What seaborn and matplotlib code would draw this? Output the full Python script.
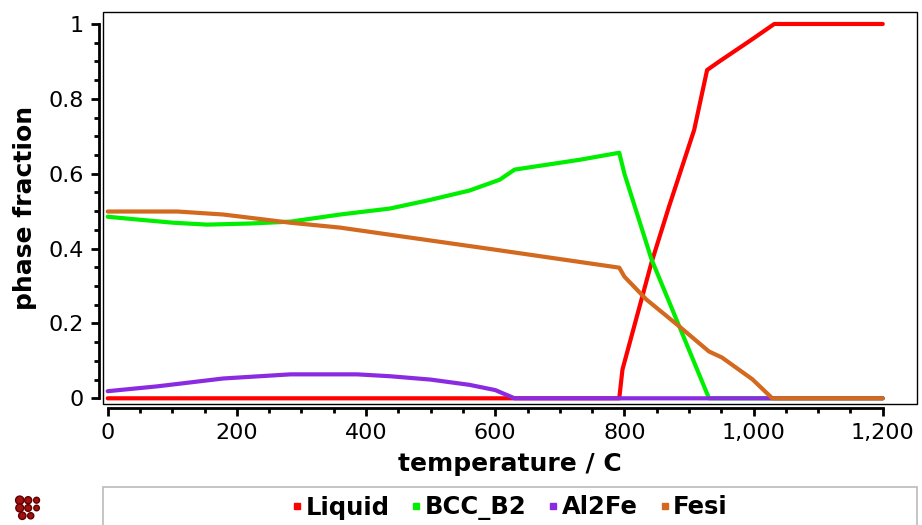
import matplotlib
matplotlib.use("Agg")
import matplotlib.pyplot as plt
from matplotlib.lines import Line2D
from matplotlib.patches import Rectangle
from matplotlib.ticker import MultipleLocator, FixedLocator, FuncFormatter
import seaborn as sns
import pandas as pd

# ---- data ----
T_liquid = [0, 792, 797, 842, 869, 908, 928, 947, 996, 1032, 1200]
f_liquid = [0, 0, 0.077, 0.363, 0.512, 0.717, 0.877, 0.90, 0.957, 1.0, 1.0]

T_bcc = [0, 50, 102, 154, 221, 283, 360, 437, 499, 560, 607, 630, 730, 792, 800, 842, 885, 931, 1200]
f_bcc = [0.485, 0.477, 0.469, 0.464, 0.467, 0.472, 0.491, 0.507, 0.53, 0.555, 0.584, 0.611,
         0.637, 0.656, 0.600, 0.371, 0.192, 0.0, 0.0]

T_al2fe = [0, 77, 179, 283, 386, 437, 500, 560, 600, 630, 1200]
f_al2fe = [0.019, 0.032, 0.053, 0.064, 0.064, 0.059, 0.05, 0.036, 0.022, 0.0, 0.0]

T_fesi = [0, 108, 179, 283, 360, 437, 600, 792, 800, 834, 885, 931, 951, 998, 1029, 1200]
f_fesi = [0.499, 0.499, 0.491, 0.469, 0.456, 0.437, 0.397, 0.349, 0.325, 0.264, 0.192,
          0.125, 0.109, 0.051, 0.0, 0.0]

phases = ["Liquid", "BCC_B2", "Al2Fe", "Fesi"]
colors = ["#FF0000", "#00EE00", "#8A2BE2", "#D2691E"]

x_major = [0, 200, 400, 600, 800, 1000, 1200]
y_major = [0, 0.2, 0.4, 0.6, 0.8, 1.0]

frames = []
for name, T, f in zip(phases, [T_liquid, T_bcc, T_al2fe, T_fesi],
                      [f_liquid, f_bcc, f_al2fe, f_fesi]):
    frames.append(pd.DataFrame({"T": T, "f": f, "phase": name}))
df = pd.concat(frames, ignore_index=True)

sns.set_style("white")
plt.rcParams["font.family"] = ["DejaVu Sans"]
for k in ["text.color", "axes.labelcolor", "xtick.color", "ytick.color"]:
    plt.rcParams[k] = "black"

fig = plt.figure(figsize=(9.22, 5.25), dpi=100)
ax = fig.add_axes([103 / 922, 1 - 404 / 525, (917 - 103) / 922, (404 - 12) / 525])

sns.lineplot(data=df, x="T", y="f", hue="phase", hue_order=phases,
             palette=dict(zip(phases, colors)), estimator=None, sort=False,
             linewidth=3, legend=False, ax=ax)

ax.set_xlim(-7.3, 1253)
ax.set_ylim(-0.0152, 1.032)

# frame box
for s in ["top", "right"]:
    ax.spines[s].set_visible(False)
ax.add_patch(Rectangle((0, 0), 1, 1, transform=ax.transAxes, fill=False,
                       edgecolor="black", linewidth=1.0, clip_on=False, zorder=5))
for s in ["left", "bottom"]:
    ax.spines[s].set_position(("outward", 3))
    ax.spines[s].set_linewidth(2)
    ax.spines[s].set_color("black")
ax.spines["left"].set_bounds(0, 1)
ax.spines["bottom"].set_bounds(0, 1200)

ax.xaxis.set_major_locator(FixedLocator(x_major))
ax.xaxis.set_minor_locator(FixedLocator([v for v in range(0, 1201, 50) if v % 200]))
ax.yaxis.set_major_locator(FixedLocator(y_major))
ax.yaxis.set_minor_locator(FixedLocator([i * 0.05 for i in range(21) if i % 4]))
ax.xaxis.set_major_formatter(FuncFormatter(lambda v, p: f"{int(round(v)):,}"))
ax.yaxis.set_major_formatter(FuncFormatter(lambda v, p: f"{v:g}"))
ax.tick_params(which="major", length=6, width=2, labelsize=16, pad=5,
               bottom=True, left=True, color="black", labelcolor="black")
ax.tick_params(which="minor", length=3.5, width=2, bottom=True, left=True, color="black")

ax.set_xlabel("temperature / C", fontsize=18, fontweight="bold", labelpad=6, color="black")
ax.set_ylabel("phase fraction", fontsize=18, fontweight="bold", labelpad=8, color="black")

# legend box at the bottom
fig.add_artist(Rectangle((103 / 922, -0.05), (917 - 103) / 922, 1 - 487 / 525 + 0.05,
                         transform=fig.transFigure, fill=False, edgecolor="#BBBBBB",
                         linewidth=1.2))
handles = [Line2D([], [], color=c, marker="s", markersize=4, linestyle="none") for c in colors]
fig.legend(handles, phases, loc="center", bbox_to_anchor=(510 / 922, 1 - 508 / 525),
           ncol=4, frameon=False, handlelength=0.4, handletextpad=0.15,
           columnspacing=0.9, prop={"weight": "bold", "size": 17.5}, labelcolor="black")

# small decorative icon
iax = fig.add_axes([13 / 922, 1 - 522 / 525, 32 / 922, 28 / 525])
iax.scatter([0, 1, 2, 0, 1, 2, 0.3, 1.3], [2, 2, 2, 1, 1, 1, 0, 0],
            s=[36, 26, 18, 32, 24, 16, 28, 20], color="#A01010", edgecolor="#600000")
iax.set_xlim(-0.8, 3)
iax.set_ylim(-0.8, 2.8)
iax.axis("off")

fig.savefig("out.png", dpi=100)
